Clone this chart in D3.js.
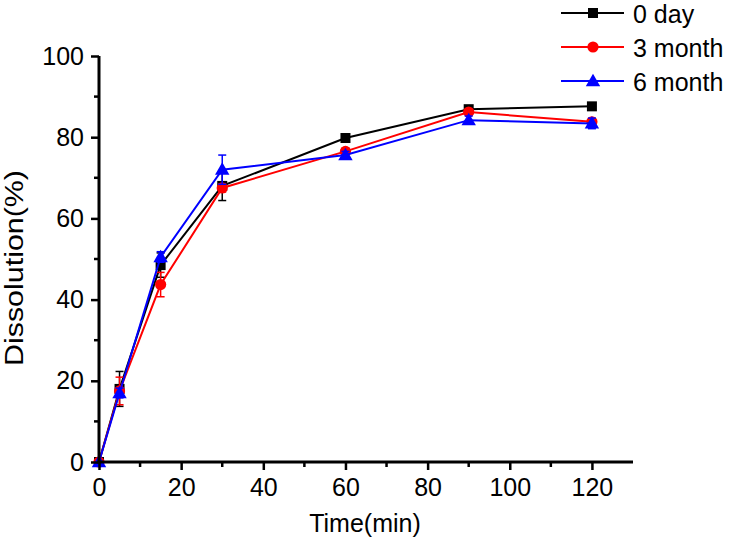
<!DOCTYPE html>
<html><head><meta charset="utf-8">
<script src="https://cdn.jsdelivr.net/npm/d3@7"></script>
<style>body{margin:0;background:#fff}svg{display:block}text{font-family:Arial,"Liberation Sans",sans-serif}</style>
</head><body>
<script>
const times = [0, 5, 15, 30, 60, 90, 120];
const seriesNames = ["0 day", "3 month", "6 month"];
const seriesColors = ["#000000", "#ff0000", "#0000ff"];
const seriesShapes = ["square", "circle", "triangle"];
const day0 = [0, 18.0, 48.5, 68.0, 79.8, 86.9, 87.6];
const month3 = [0, 17.5, 43.7, 67.5, 76.5, 86.2, 83.8];
const month6 = [0, 17.0, 50.5, 72.0, 75.6, 84.2, 83.4];
const err0 = [0, 4.3, 3.0, 3.6, 0.6, 0.5, 0.5];
const err3 = [0, 3.4, 3.0, 1.0, 0.8, 0.6, 0.6];
const err6 = [0, 1.2, 1.3, 3.6, 0.9, 1.0, 1.3];
const xTicks = [0, 20, 40, 60, 80, 100, 120];
const yTicks = [0, 20, 40, 60, 80, 100];

const W = 735, H = 551;
const svg = d3.select("body").append("svg").attr("width", W).attr("height", H);
const x = d3.scaleLinear().domain([0, 130]).range([99, 633]);
const y = d3.scaleLinear().domain([0, 100]).range([462, 56]);

const series = [day0, month3, month6].map((v, i) => ({
  name: seriesNames[i], color: seriesColors[i], shape: seriesShapes[i],
  vals: v, errs: [err0, err3, err6][i]
}));

function marker(g, shape, color, cx, cy) {
  if (shape === "square") {
    g.append("rect").attr("x", cx - 5).attr("y", cy - 5).attr("width", 10).attr("height", 10).attr("fill", color);
  } else if (shape === "circle") {
    g.append("circle").attr("cx", cx).attr("cy", cy).attr("r", 5.6).attr("fill", color);
  } else {
    g.append("path").attr("d", d3.symbol(d3.symbolTriangle, 90)()).attr("transform", `translate(${cx},${cy+1})`).attr("fill", color);
  }
}

const plot = svg.append("g");
series.forEach(s => {
  const g = plot.append("g");
  times.forEach((t, i) => {
    const e = s.errs[i];
    if (e <= 0) return;
    const cx = x(t);
    g.append("line").attr("x1", cx).attr("x2", cx).attr("y1", y(s.vals[i] + e)).attr("y2", y(s.vals[i] - e))
      .attr("stroke", s.color).attr("stroke-width", 1.5);
    [s.vals[i] + e, s.vals[i] - e].forEach(v => {
      g.append("line").attr("x1", cx - 4).attr("x2", cx + 4).attr("y1", y(v)).attr("y2", y(v))
        .attr("stroke", s.color).attr("stroke-width", 1.5);
    });
  });
  const line = d3.line().x((d, i) => x(times[i])).y(d => y(d));
  g.append("path").attr("d", line(s.vals)).attr("fill", "none").attr("stroke", s.color).attr("stroke-width", 2);
  times.forEach((t, i) => marker(g, s.shape, s.color, x(t), y(s.vals[i])));
});

// axes
const xAxis = svg.append("g").attr("transform", "translate(0,462)");
xAxis.call(d3.axisBottom(x).tickValues(xTicks).tickSize(8).tickPadding(8).tickFormat(d3.format("d")));
xAxis.append("g").selectAll("line").data(d3.range(10, 130, 20)).join("line")
  .attr("x1", d => x(d)).attr("x2", d => x(d)).attr("y1", 0).attr("y2", 5).attr("stroke", "#000").attr("stroke-width", 2.5);
const yAxis = svg.append("g").attr("transform", "translate(99,0)");
yAxis.call(d3.axisLeft(y).tickValues(yTicks).tickSize(8).tickPadding(7).tickFormat(d3.format("d")));
yAxis.append("g").selectAll("line").data(d3.range(10, 100, 20)).join("line")
  .attr("y1", d => y(d)).attr("y2", d => y(d)).attr("x1", 0).attr("x2", -5).attr("stroke", "#000").attr("stroke-width", 2.5);
[xAxis, yAxis].forEach(a => {
  a.attr("font-family", null).attr("font-size", null);
  a.select(".domain").attr("stroke-width", 3);
  a.selectAll(".tick line").attr("stroke-width", 2.5);
  a.selectAll(".tick text").attr("font-size", 25).attr("fill", "#000");
});
xAxis.select(".domain").attr("d", `M${x(0)-1.5},0H${x(130)}`);
yAxis.select(".domain").attr("d", `M0,${y(0)+1.5}V${y(100)}`);

svg.append("text").attr("x", 365).attr("y", 532).attr("text-anchor", "middle").attr("font-size", 25).text("Time(min)");
svg.append("text").attr("transform", "translate(23,268) rotate(-90)").attr("text-anchor", "middle").attr("font-size", 26)
  .attr("textLength", 196).attr("lengthAdjust", "spacingAndGlyphs").text("Dissolution(%)");

// legend
const leg = svg.append("g");
series.forEach((s, i) => {
  const ly = 13 + i * 34;
  leg.append("line").attr("x1", 561).attr("x2", 624).attr("y1", ly).attr("y2", ly).attr("stroke", s.color).attr("stroke-width", 2);
  marker(leg, s.shape, s.color, 593, ly);
  leg.append("text").attr("x", 633).attr("y", ly + 10).attr("font-size", 25).text(s.name);
});
</script>
</body></html>
